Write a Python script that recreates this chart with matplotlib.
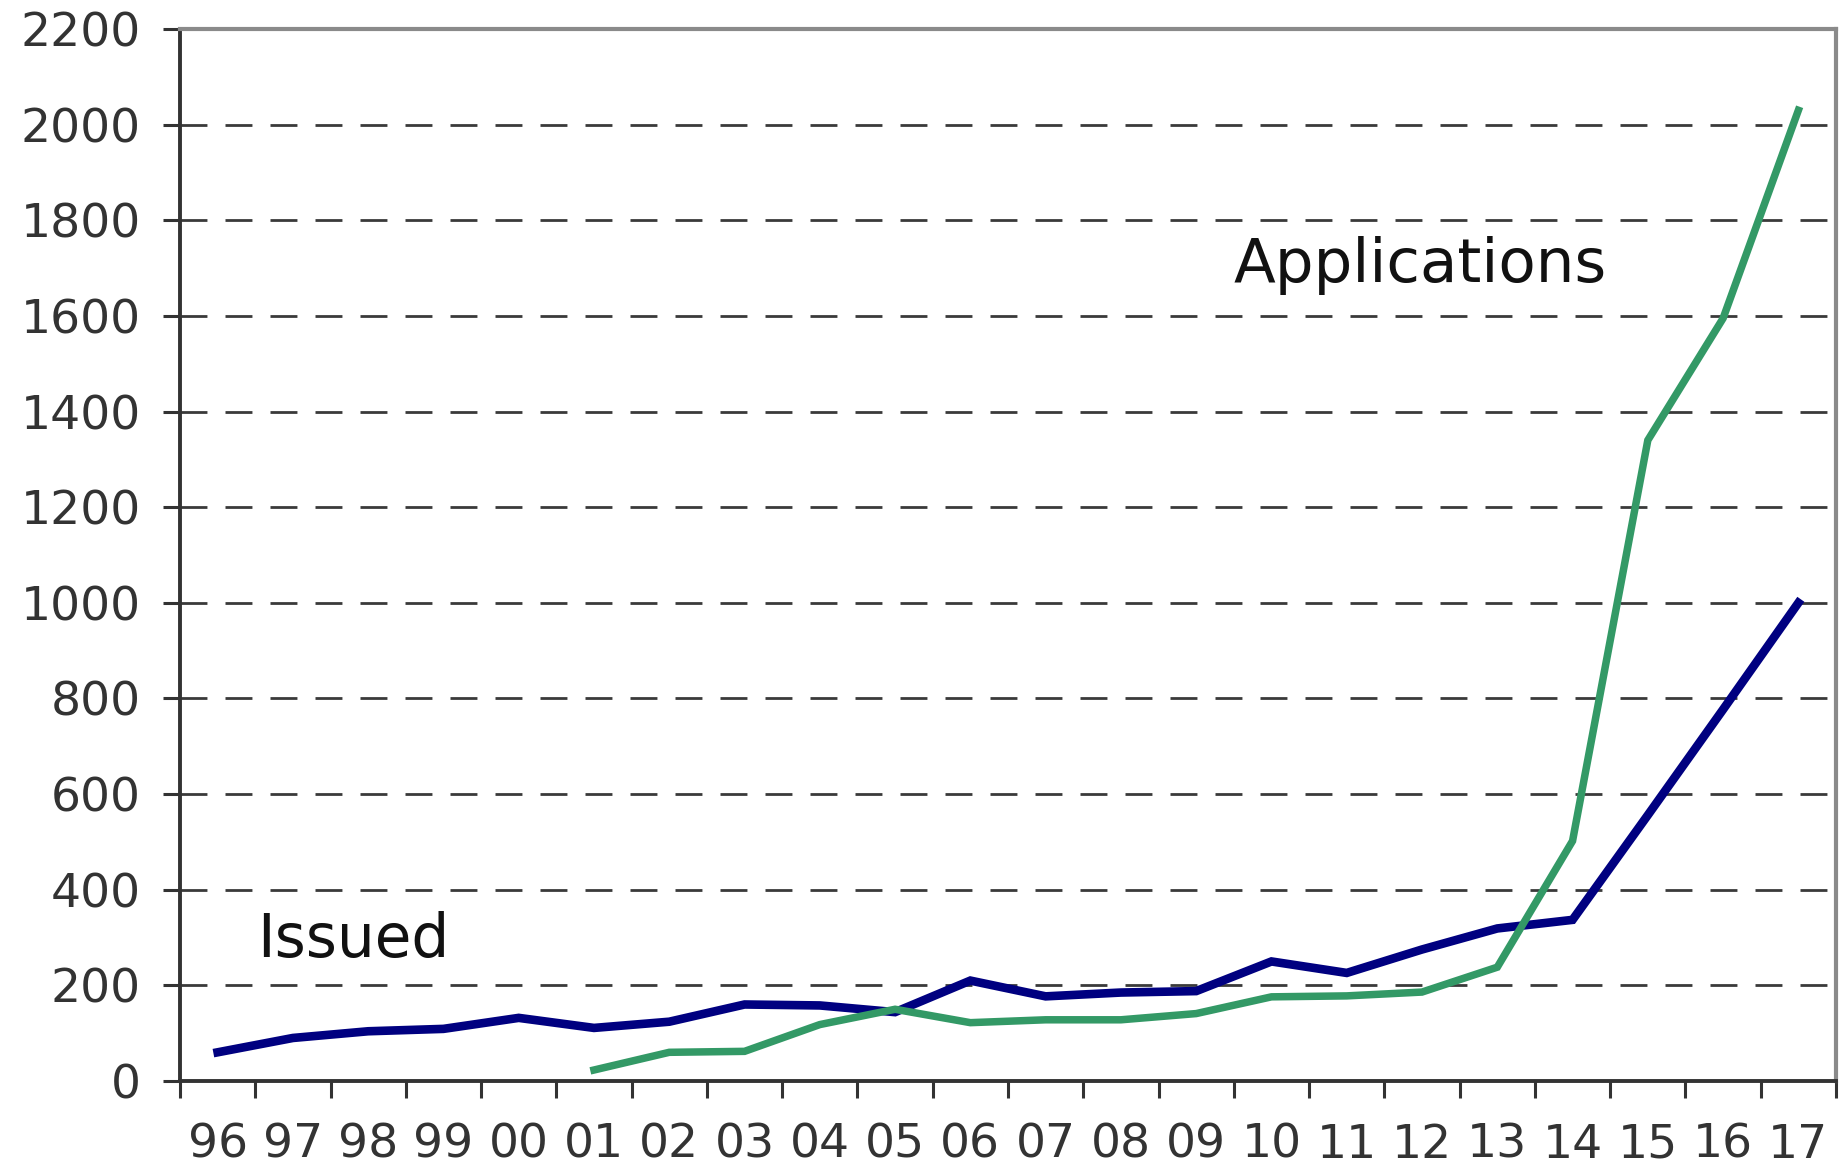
import matplotlib
matplotlib.use("Agg")
import matplotlib.pyplot as plt
import numpy as np

years = ["96", "97", "98", "99", "00", "01", "02", "03", "04", "05", "06",
         "07", "08", "09", "10", "11", "12", "13", "14", "15", "16", "17"]
issued = [60, 90, 104, 109, 132, 111, 124, 160, 158, 144, 210,
          177, 185, 188, 250, 226, 275, 319, 337, 556, 777, 1000]
app_years = years[5:]
applications = [23, 60, 62, 118, 150, 122, 128, 128, 141, 176, 178,
                186, 238, 502, 1340, 1595, 2030]
y_ticks = list(range(0, 2201, 200))

plt.rcParams["font.family"] = ["DejaVu Sans"]

fig = plt.figure(figsize=(18.45, 11.7), dpi=100)
ax = fig.add_axes([180 / 1845, 1 - 1081 / 1170, (1836 - 180) / 1845, (1081 - 29) / 1170])

x_all = np.arange(len(years))
x_app = np.array([years.index(y) for y in app_years])

ax.plot(x_all, issued, color="#000080", linewidth=6.2, solid_joinstyle="miter", zorder=3)
ax.plot(x_app, applications, color="#339966", linewidth=5.4, solid_joinstyle="miter", zorder=3)

ax.set_xlim(-0.5, len(years) - 0.5)
ax.set_ylim(0, 2200)
ax.set_yticks(y_ticks)
ax.set_yticklabels([str(v) for v in y_ticks], fontsize=34, color="#333333")
for v in y_ticks[1:-1]:
    ax.axhline(v, color="#3a3a3a", linewidth=2.0, linestyle=(0, (9.7, 6.5)), zorder=1)

# category labels centred, tick marks on the boundaries
ax.set_xticks(x_all)
ax.set_xticklabels(years, fontsize=34, color="#333333")
ax.tick_params(axis="x", which="major", length=0, pad=30)
ax.set_xticks(np.arange(-0.5, len(years), 1), minor=True)
ax.tick_params(axis="x", which="minor", length=12, width=2.2, color="#333333", direction="out")
ax.tick_params(axis="y", length=12, width=2.2, color="#333333", pad=16)

for side in ("left", "bottom"):
    ax.spines[side].set_color("#333333")
    ax.spines[side].set_linewidth(2.8)
for side in ("top", "right"):
    ax.spines[side].set_color("#8a8a8a")
    ax.spines[side].set_linewidth(3.0)

ax.text(13.5, 1706, "Applications", fontsize=44, color="#111111", ha="left", va="center")
ax.text(0.52, 293, "Issued", fontsize=43, color="#111111", ha="left", va="center")

fig.savefig("out.png", dpi=100, facecolor="white")
